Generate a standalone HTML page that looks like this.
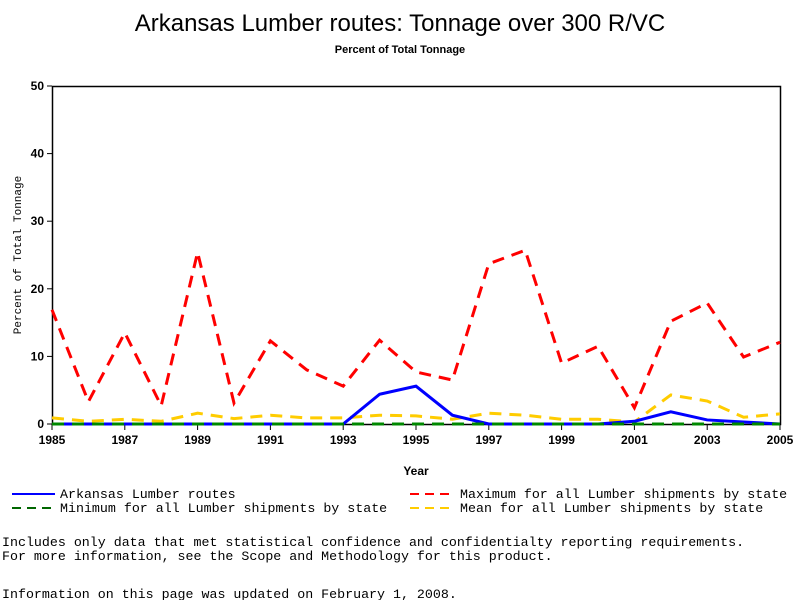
<!DOCTYPE html>
<html><head><meta charset="utf-8"><style>
body{margin:0;background:#fff;width:800px;height:600px;overflow:hidden;font-family:"Liberation Sans",sans-serif}
svg{position:absolute;left:0;top:0}
</style></head><body>
<svg width="800" height="600">
<text x="400" y="31" text-anchor="middle" font-size="24" font-family="Liberation Sans,sans-serif">Arkansas Lumber routes: Tonnage over 300 R/VC</text>
<text x="400" y="53" text-anchor="middle" font-size="11" font-weight="bold" font-family="Liberation Sans,sans-serif">Percent of Total Tonnage</text>
<g id="axes"></g>
<g id="series"></g>
<text x="416" y="475" text-anchor="middle" font-size="12" font-weight="bold">Year</text>
<text transform="translate(21,255) rotate(-90)" text-anchor="middle" font-size="11" font-family="Liberation Mono,monospace">Percent of Total Tonnage</text>
<g font-family="Liberation Mono,monospace" font-size="13.3">
<g><line x1="12" y1="494" x2="55" y2="494" stroke="#00f" stroke-width="2"/><text x="60" y="498">Arkansas Lumber routes</text></g>
<g><line x1="410" y1="494" x2="455" y2="494" stroke="#f00" stroke-width="2" stroke-dasharray="9,6"/><text x="460" y="498">Maximum for all Lumber shipments by state</text></g>
<g><line x1="12" y1="508" x2="55" y2="508" stroke="#060" stroke-width="2" stroke-dasharray="9,6"/><text x="60" y="512">Minimum for all Lumber shipments by state</text></g>
<g><line x1="410" y1="508" x2="455" y2="508" stroke="#fc0" stroke-width="2" stroke-dasharray="9,6"/><text x="460" y="512">Mean for all Lumber shipments by state</text></g>
<text x="2" y="546">Includes only data that met statistical confidence and confidentialty reporting requirements.</text>
<text x="2" y="560">For more information, see the Scope and Methodology for this product.</text>
<text x="2" y="598">Information on this page was updated on February 1, 2008.</text>
</g>
</svg>
<script>
const years=[1985,1986,1987,1988,1989,1990,1991,1992,1993,1994,1995,1996,1997,1998,1999,2000,2001,2002,2003,2004,2005];
const maxVals=[16.9,3.3,13.5,2.7,25.4,3.1,12.3,8,5.6,12.4,7.7,6.5,23.7,25.7,9,11.5,2.4,15.2,17.9,9.9,12.1];
const arkVals=[0,0,0,0,0,0,0,0,0,4.4,5.6,1.3,0,0,0,0,0.4,1.8,0.6,0.3,0];
const meanVals=[0.9,0.4,0.7,0.4,1.6,0.8,1.3,0.9,0.9,1.3,1.2,0.7,1.6,1.3,0.7,0.7,0.3,4.3,3.4,1.0,1.5];
const minVals=[0,0,0,0,0,0,0,0,0,0,0,0,0,0,0,0,0,0,0,0,0];
const yTicks=[0,10,20,30,40,50];
const xTicks=[1985,1987,1989,1991,1993,1995,1997,1999,2001,2003,2005];
const X0=52,X1=780,Y0=424,Y1=86;
const xs=v=>X0+(v-1985)/20*(X1-X0);
const ys=v=>Y0-v/50*(Y0-Y1);
const NS="http://www.w3.org/2000/svg";
const ax=document.getElementById('axes'),se=document.getElementById('series');
function mk(tag,at,parent){const e=document.createElementNS(NS,tag);for(const k in at)e.setAttribute(k,at[k]);parent.appendChild(e);return e;}
const frame=mk('rect',{x:X0+0.5,y:Y1+0.5,width:X1-X0,height:Y0-Y1,fill:'none',stroke:'#000','stroke-width':1.5},ax);


yTicks.forEach(t=>{
 const l=mk('line',{x1:X0-5,x2:X0,y1:ys(t),y2:ys(t),stroke:'#000'},ax);
 
 
 const tx=mk('text',{x:X0-8,y:ys(t)+4,'text-anchor':'end','font-size':12,'font-weight':'bold'},ax);tx.textContent=t;
 
 
});
xTicks.forEach(t=>{
 const l=mk('line',{x1:xs(t),x2:xs(t),y1:Y0,y2:Y0+6,stroke:'#000'},ax);
 
 
 const tx=mk('text',{x:xs(t),y:Y0+20,'text-anchor':'middle','font-size':12,'font-weight':'bold'},ax);tx.textContent=t;
 
 
});
function line(vals,color,dash,name){
 const p=mk('polyline',{points:vals.map((v,i)=>xs(years[i])+','+ys(v)).join(' '),fill:'none',stroke:color,'stroke-width':3,'stroke-dasharray':dash},se);
 
 
}
line(maxVals,'#f00','12,8','series-maximum');
line(meanVals,'#fc0','12,8','series-mean');
line(arkVals,'#00f','none','series-arkansas');
line(minVals,'#080','12,8','series-minimum');
</script>
</body></html>
